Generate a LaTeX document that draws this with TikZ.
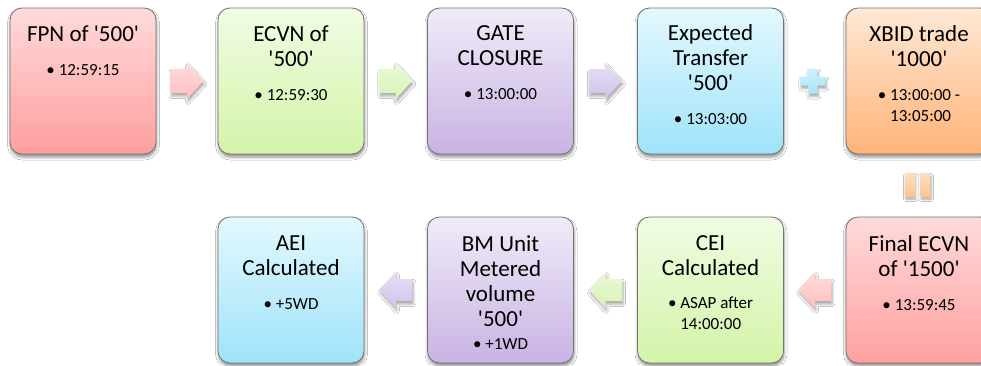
\documentclass[tikz,border=0pt]{standalone}
\usepackage{fontspec}
\newfontfamily\calibrifont{Carlito}
\usetikzlibrary{calc,shadows.blur}
\definecolor{pkT}{HTML}{FFDADA}\definecolor{pkB}{HTML}{FF9F9F}
\definecolor{grT}{HTML}{F1FCE3}\definecolor{grB}{HTML}{D3F4A8}
\definecolor{puT}{HTML}{F0EBF8}\definecolor{puB}{HTML}{C8B3E3}
\definecolor{blT}{HTML}{E3F8FE}\definecolor{blB}{HTML}{9FE3FA}
\definecolor{orT}{HTML}{FFE8D5}\definecolor{orB}{HTML}{FFB378}
\definecolor{pkA}{HTML}{FFBFBF}\definecolor{grA}{HTML}{D8F4B6}
\definecolor{puA}{HTML}{D2C3EA}\definecolor{blA}{HTML}{A6E6FA}
\definecolor{orA}{HTML}{FFC48F}
\begin{document}
\begin{tikzpicture}[x=1pt,y=-1pt,
  box/.style={draw=black!55, line width=0.8pt, rounded corners=12pt,
    minimum width=146pt, minimum height=146pt, inner sep=0pt,
    blur shadow={shadow xshift=0.5pt, shadow yshift=-3pt, shadow blur radius=3pt, shadow opacity=45}},
  ttl/.style={anchor=north, align=center, inner sep=0pt, font=\calibrifont\fontsize{23}{25}\selectfont},
  blt/.style={anchor=north, align=left, inner sep=0pt, font=\calibrifont\fontsize{17}{21}\selectfont},
  pinkbox/.style={top color=pkT, bottom color=pkB},
  greenbox/.style={top color=grT, bottom color=grB},
  purplebox/.style={top color=puT, bottom color=puB},
  bluebox/.style={top color=blT, bottom color=blB},
  orangebox/.style={top color=orT, bottom color=orB},
  blockarrow/.style={blur shadow={shadow xshift=1pt, shadow yshift=-3pt, shadow blur radius=2.5pt, shadow opacity=35}},
  pinkarr/.style={blockarrow, top color=pkA!55, bottom color=pkA},
  greenarr/.style={blockarrow, top color=grA!55, bottom color=grA},
  purplearr/.style={blockarrow, top color=puA!55, bottom color=puA},
  bluearr/.style={blockarrow, top color=blA!55, bottom color=blA},
  orangearr/.style={blockarrow, top color=orA!55, bottom color=orA}
]
\useasboundingbox (0,0) rectangle (981,365);
\fill[white] (0,0) rectangle (981,365);
\clip (0,0) rectangle (981,365);

% Row 1
\node[box,pinkbox] (b1) at (83,81) {};
\node[box,greenbox] (b2) at (291,81) {};
\node[box,purplebox] (b3) at (500.5,81) {};
\node[box,bluebox] (b4) at (710.5,81) {};
\node[box,orangebox] (b5) at (919,81) {};
% Row 2
\node[box,bluebox] (b6) at (291,290) {};
\node[box,purplebox] (b7) at (500.5,290) {};
\node[box,greenbox] (b8) at (710.5,290) {};
\node[box,pinkbox] (b9) at (919,290) {};

% Texts row 1
\node[ttl] (t1) at ($(b1.north)+(0,18)$) {FPN of '500'};
\node[blt] (d1) at ($(t1.south)+(0,22)$) {• 12:59:15};
\node[ttl] (t2) at ($(b2.north)+(0,18)$) {ECVN of\\'500'};
\node[blt] (d2) at ($(t2.south)+(0,22)$) {• 12:59:30};
\node[ttl] (t3) at ($(b3.north)+(0,18)$) {GATE\\CLOSURE};
\node[blt] (d3) at ($(t3.south)+(0,22)$) {• 13:00:00};
\node[ttl] (t4) at ($(b4.north)+(0,17)$) {Expected\\Transfer\\'500'};
\node[blt] (d4) at ($(t4.south)+(0,22)$) {• 13:03:00};
\node[ttl] (t5) at ($(b5.north)+(0,18)$) {XBID trade\\'1000'};
\node[blt] (d5) at ($(t5.south)+(0,22)$) {• 13:00:00 -\\\phantom{• }13:05:00};

% Texts row 2
\node[ttl] (t6) at ($(b6.north)+(0,19)$) {AEI\\Calculated};
\node[blt] (d6) at ($(t6.south)+(0,22)$) {• +5WD};
\node[ttl] (t7) at ($(b7.north)+(0,19)$) {BM Unit\\Metered\\volume\\'500'};
\node[blt] (d7) at ($(t7.south)+(0,11)$) {• +1WD};
\node[ttl] (t8) at ($(b8.north)+(0,19)$) {CEI\\Calculated};
\node[blt] (d8) at ($(t8.south)+(0,21)$) {• ASAP after\\\phantom{• }14:00:00};
\node[ttl] (t9) at ($(b9.north)+(0,19)$) {Final ECVN\\of '1500'};
\node[blt] (d9) at ($(t9.south)+(0,22)$) {• 13:59:45};

% Right block arrows (row 1)
\begin{scope}[shift={($(b1.east)!0.5!(b2.west)$)}]
  \path[pinkarr] (-16.5,-12) -- (0,-12) -- (0,-18) -- (16.5,0) -- (0,18) -- (0,12) -- (-16.5,12) -- cycle;
\end{scope}
\begin{scope}[shift={($(b2.east)!0.5!(b3.west)$)}]
  \path[greenarr] (-16.5,-12) -- (0,-12) -- (0,-18) -- (16.5,0) -- (0,18) -- (0,12) -- (-16.5,12) -- cycle;
\end{scope}
\begin{scope}[shift={($(b3.east)!0.5!(b4.west)$)}]
  \path[purplearr] (-16.5,-12) -- (0,-12) -- (0,-18) -- (16.5,0) -- (0,18) -- (0,12) -- (-16.5,12) -- cycle;
\end{scope}
% Plus
\begin{scope}[shift={($(b4.east)!0.5!(b5.west)+(-2,0)$)}]
  \path[bluearr] (-4.5,-12.5) -- (4.5,-12.5) -- (4.5,-4.5) -- (12.5,-4.5) -- (12.5,4.5) -- (4.5,4.5) -- (4.5,12.5) -- (-4.5,12.5) -- (-4.5,4.5) -- (-12.5,4.5) -- (-12.5,-4.5) -- (-4.5,-4.5) -- cycle;
\end{scope}
% Equals (vertical)
\begin{scope}[shift={($(b5.south)!0.5!(b9.north)+(-1.5,-1)$)}]
  \path[orangearr] (-12.5,-11.5) rectangle (-3,11.5);
  \path[orangearr] (3,-11.5) rectangle (12.5,11.5);
\end{scope}
% Left block arrows (row 2)
\begin{scope}[shift={($(b9.west)!0.5!(b8.east)$)}]
  \path[pinkarr] (16.5,-11) -- (0,-11) -- (0,-18) -- (-16.5,0) -- (0,18) -- (0,11) -- (16.5,11) -- cycle;
\end{scope}
\begin{scope}[shift={($(b8.west)!0.5!(b7.east)$)}]
  \path[greenarr] (16.5,-11) -- (0,-11) -- (0,-18) -- (-16.5,0) -- (0,18) -- (0,11) -- (16.5,11) -- cycle;
\end{scope}
\begin{scope}[shift={($(b7.west)!0.5!(b6.east)$)}]
  \path[purplearr] (16.5,-11) -- (0,-11) -- (0,-18) -- (-16.5,0) -- (0,18) -- (0,11) -- (16.5,11) -- cycle;
\end{scope}
\end{tikzpicture}
\end{document}
